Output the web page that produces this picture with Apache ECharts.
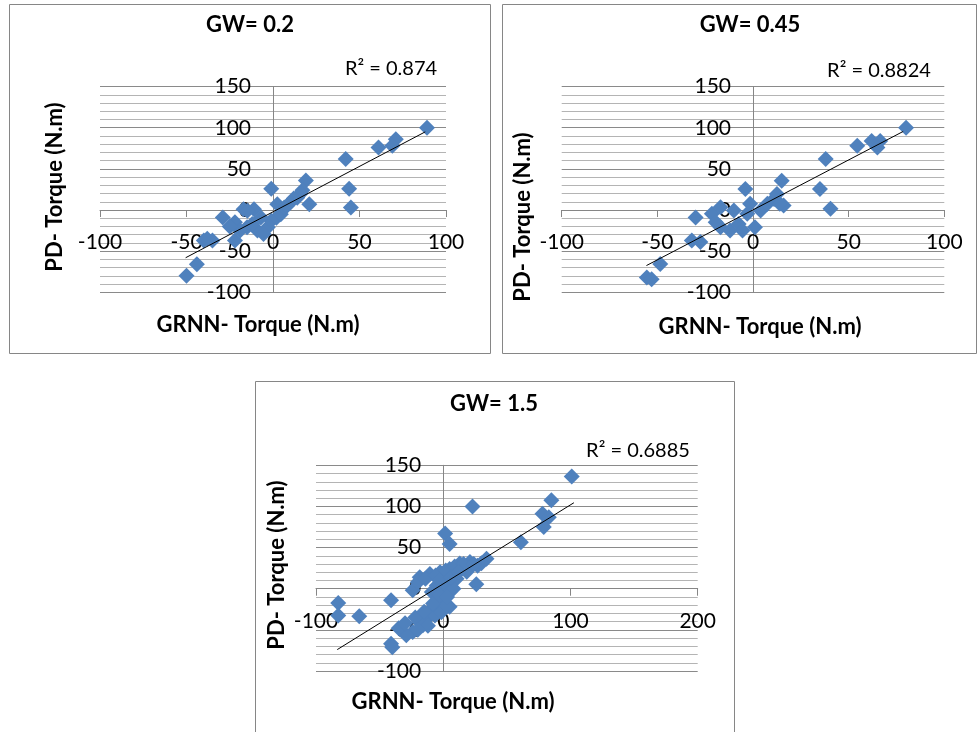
<!DOCTYPE html>
<html>
<head>
<meta charset="utf-8">
<script src="https://cdn.jsdelivr.net/npm/echarts@6/dist/echarts.min.js"></script>
<style>
  html, body { margin: 0; padding: 0; background: #fff; }
  #chart { width: 979px; height: 732px; }
</style>
</head>
<body>
<div id="chart"></div>
<script>
// panel titles and fit labels
const titles = ['GW= 0.2', 'GW= 0.45', 'GW= 1.5']
const r2Labels = ['R² = 0.874', 'R² = 0.8824', 'R² = 0.6885']
const xTitle = 'GRNN- Torque (N.m)'
const yTitle = 'PD- Torque (N.m)'

// GW = 0.2
const gw02X = [89, 71, 69, 61, 42, 44, 45, -1, 19, 21, -29, -35, -40, -44, -50, -22, -17, -11, -22, -15, -9, -3, -1, 2, 4.5, 6.5, 10, 14, 17, -7, -5.5, -12, -19, 2.5, 16, 12, 8, -25, -38, -14.8]
const gw02Y = [100, 86, 78, 76, 62, 26, 3, 26, 36, 7, -9, -37, -37, -66, -80, -37, 1, 1, -15, -21, -25, -21, -13, -9.5, -5, 3, 9, 15, 24, -9, -29, -17, -25, 7, 20, 14, 5, -20, -35, -1]
const gw02Fit = { x: [-50.5, 88], y: [-58, 95] }

// GW = 0.45
const gw045X = [80, 62, 66.5, 65, 54.5, 38, 35, 40.5, 15, 16, -4, -30, 1, -32, -27.5, -48.5, -55.5, -53, -21.5, -17, -10, -17, -12, -7.5, -3, -1.5, 4, 7.5, 11, 12.5, 14, -19.5, -5.5]
const gw045Y = [100, 84, 84, 76, 78, 62, 25.5, 1.5, 35.5, 5.5, 25.5, -9, -21, -37, -39, -65.5, -82, -84, -4.5, 3.5, -0.5, -21, -25, -17, -4.5, 7.5, -0.5, 7.5, 13.5, 19.5, 7.5, -15, -25]
const gw045Fit = { x: [-55.7, 78.5], y: [-67.5, 95.5] }

// GW = 1.5
const gw15X = [101, 85, 78, 83, 79, 61, 34, 23, 1.5, 5, 26, -82.5, -82.5, -66, -41, -41, -40, -24, -24, -18.5, -13, -9, -5, 5, 0, -18.5, -10.5, -2.5, 5, 13, 21, 18.5, 10.5, 2.5, -5, -9, -1.5, 5, -29, -16, -6.5, -1.5, 2.5, 27, 30, 8,
  -20, -14, -6, 2, 9, 16, 24, -3, 6, 12, -35, -30, -22, -15, -8, -3, 3, -12, -20]
const gw15Y = [136.5, 107.5, 91, 87, 75, 56.5, 36.5, 100, 67, 54.5, 5.5, -17.5, -32.5, -33.5, -14, -67, -71, -2, -52.5, -40.5, -36.5, -24, -16, -22, -12, 14, 18, 20, 24, 30.5, 32.5, 20.5, 12, 4, 4, -4, -2, -4, -56.5, -44.5, -32.5, -28.5, -20.5, 28, 31, 0,
  8, 12, 16, 22, 27, 30, 30, 10, 14, 20, -48, -42, -35, -28, -18, -8, -10, -45, -50]
const gw15Fit = { x: [-83.3, 102.7], y: [-74, 104.5] }

// axis ranges
const xMin = [-100, -100, -100]
const xMax = [100, 100, 200]
const xStep = [50, 50, 100]
const yMin = -100
const yMax = 150
const yStep = 50

const MARKER = '#4F81BD'
const AXIS_GRAY = '#868686'
const FONT = 'Lato, "Liberation Sans", sans-serif'

// layout of the three panels (box + plot area + text anchors)
const panels = [
  { box: [9, 4, 481, 349], grid: [100, 86.6, 346, 205.7], title: [250, 25], r2: [391, 69], xt: [258, 325], yt: [55, 187] },
  { box: [502, 4, 474, 349], grid: [561.7, 86.6, 382.6, 205.7], title: [750, 25], r2: [879, 71], xt: [760, 327], yt: [523, 217] },
  { box: [255, 381, 479, 380], grid: [316, 465.3, 381.7, 205.7], title: [494, 404], r2: [638, 451], xt: [453, 702], yt: [277, 565] }
]

const sets = [
  { xs: gw02X, ys: gw02Y, fit: gw02Fit },
  { xs: gw045X, ys: gw045Y, fit: gw045Fit },
  { xs: gw15X, ys: gw15Y, fit: gw15Fit }
]

function buildOption() {
  const grid = []
  const xAxis = []
  const yAxis = []
  const series = []
  const graphic = []

  panels.forEach((p, i) => {
    const [gl, gt, gw, gh] = p.grid
    grid.push({ left: gl, top: gt, width: gw, height: gh })

    // the axes cross at zero like in Excel, labels included
    const xOff = -gh * (0 - yMin) / (yMax - yMin)
    const yOff = -gw * (0 - xMin[i]) / (xMax[i] - xMin[i])

    xAxis.push({
      gridIndex: i,
      type: 'value',
      position: 'bottom',
      offset: xOff,
      min: xMin[i],
      max: xMax[i],
      interval: xStep[i],
      axisLine: { onZero: false, lineStyle: { color: AXIS_GRAY, width: 1 } },
      axisTick: { show: true, inside: false, length: 7, lineStyle: { color: AXIS_GRAY } },
      axisLabel: { margin: 22, fontSize: 21, fontFamily: FONT, color: '#000' },
      splitLine: { show: false }
    })

    yAxis.push({
      gridIndex: i,
      type: 'value',
      position: 'left',
      offset: yOff,
      min: yMin,
      max: yMax,
      interval: yStep,
      axisLine: { onZero: false, lineStyle: { color: AXIS_GRAY, width: 1 } },
      axisTick: { show: false },
      axisLabel: { margin: 22, fontSize: 21, fontFamily: FONT, color: '#000' },
      splitLine: { show: true, lineStyle: { color: '#8a8a8a', width: 1 } },
      minorTick: { show: false, splitNumber: 5 },
      minorSplitLine: { show: true, lineStyle: { color: '#b4b4b4', width: 1 } }
    })

    const s = sets[i]
    series.push({
      type: 'scatter',
      xAxisIndex: i,
      yAxisIndex: i,
      symbol: 'diamond',
      symbolSize: 16,
      itemStyle: { color: MARKER, opacity: 1 },
      data: s.xs.map((x, k) => [x, s.ys[k]]),
      z: 3
    })
    series.push({
      type: 'line',
      xAxisIndex: i,
      yAxisIndex: i,
      symbol: 'none',
      lineStyle: { color: '#000', width: 1 },
      data: s.fit.x.map((x, k) => [x, s.fit.y[k]]),
      z: 4
    })

    graphic.push({
      type: 'rect',
      shape: { x: p.box[0] + 0.5, y: p.box[1] + 0.5, width: p.box[2], height: p.box[3] },
      style: { fill: 'none', stroke: AXIS_GRAY, lineWidth: 1 },
      z: -1
    })
    graphic.push({
      type: 'text', x: p.title[0], y: p.title[1],
      style: { text: titles[i], font: 'bold 22px ' + FONT, fill: '#000', textAlign: 'center', textVerticalAlign: 'middle' }
    })
    graphic.push({
      type: 'text', x: p.r2[0], y: p.r2[1],
      style: { text: r2Labels[i], font: '20px ' + FONT, fill: '#000', textAlign: 'center', textVerticalAlign: 'middle' }
    })
    graphic.push({
      type: 'text', x: p.xt[0], y: p.xt[1],
      style: { text: xTitle, font: 'bold 22px ' + FONT, fill: '#000', textAlign: 'center', textVerticalAlign: 'middle' }
    })
    graphic.push({
      type: 'text', x: p.yt[0], y: p.yt[1], rotation: Math.PI / 2,
      style: { text: yTitle, font: 'bold 22px ' + FONT, fill: '#000', textAlign: 'center', textVerticalAlign: 'middle' }
    })
  })

  return { animation: false, backgroundColor: '#fff', grid, xAxis, yAxis, series, graphic }
}

const chart = echarts.init(document.getElementById('chart'), null, { renderer: 'canvas' })
chart.setOption(buildOption())
</script>
</body>
</html>
